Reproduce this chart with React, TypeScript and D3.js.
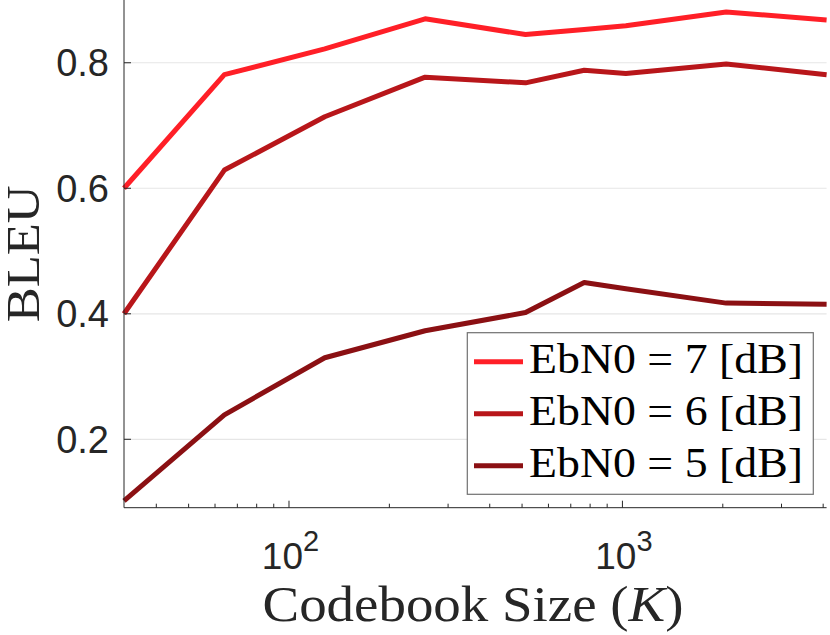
import React, { useEffect, useRef } from 'react';
import * as d3 from 'd3';

// codebook sizes (K) and BLEU per EbN0
const codebookSizes = [32, 64, 128, 256, 512, 768, 1024, 2048, 4096];
const bleu7dB = [0.600, 0.781, 0.822, 0.870, 0.845, 0.853, 0.859, 0.881, 0.868];
const bleu6dB = [0.400, 0.629, 0.714, 0.777, 0.768, 0.788, 0.783, 0.798, 0.781];
const bleu5dB = [0.102, 0.239, 0.330, 0.373, 0.402, 0.450, 0.440, 0.417, 0.415];

const seriesNames = ['7', '6', '5'];
const seriesColors = ['#ff1f27', '#b8161a', '#8b1013'];

const yTicks = [0.2, 0.4, 0.6, 0.8];
const xMajorTicks = [100, 1000];
const xTickExponents = ['2', '3'];

const sansFont = "'Liberation Sans', Arial, Helvetica, sans-serif";
const serifFont = "'Liberation Serif', 'Times New Roman', serif";

const App = () => {
  const svgRef = useRef(null);

  useEffect(() => {
    const svg = d3.select(svgRef.current);
    svg.selectAll('*').remove();

    const left = 124, right = 826.6, top = 0, bottom = 507.7;
    const axisColor = '#262626';

    const x = d3.scaleLog().domain([32, 4096]).range([left, right]);
    const y = d3.scaleLinear().domain([0.091, 0.9]).range([bottom, top]);

    // grid
    svg.append('g')
      .selectAll('line')
      .data(yTicks)
      .enter().append('line')
      .attr('x1', left).attr('x2', right)
      .attr('y1', d => y(d)).attr('y2', d => y(d))
      .attr('stroke', '#e6e6e6')
      .attr('stroke-width', 1.2);

    // lines
    const allSeries = [bleu7dB, bleu6dB, bleu5dB];
    const line = d3.line<number>()
      .x((_, i) => x(codebookSizes[i]))
      .y(d => y(d));

    allSeries.forEach((vals, i) => {
      svg.append('path')
        .datum(vals)
        .attr('d', line)
        .attr('fill', 'none')
        .attr('stroke', seriesColors[i])
        .attr('stroke-width', 5)
        .attr('stroke-linejoin', 'round');
    });

    // y axis
    const yAxis = svg.append('g');
    yAxis.append('line')
      .attr('x1', left).attr('x2', left)
      .attr('y1', top).attr('y2', bottom)
      .attr('stroke', axisColor).attr('stroke-width', 1);
    yAxis.selectAll('.ytick')
      .data(yTicks)
      .enter().append('line')
      .attr('x1', left).attr('x2', left + 7)
      .attr('y1', d => y(d)).attr('y2', d => y(d))
      .attr('stroke', axisColor);
    yAxis.selectAll('text')
      .data(yTicks)
      .enter().append('text')
      .attr('x', 109)
      .attr('y', d => y(d) + 13.5)
      .attr('text-anchor', 'end')
      .attr('font-family', sansFont)
      .attr('font-size', 38)
      .attr('fill', axisColor)
      .text(d => d.toFixed(1));

    // x axis
    const xAxis = svg.append('g');
    xAxis.append('line')
      .attr('x1', left).attr('x2', right)
      .attr('y1', bottom).attr('y2', bottom)
      .attr('stroke', axisColor).attr('stroke-width', 1);
    const minorTicks = [];
    [10, 100, 1000].forEach(dec => {
      for (let m = 2; m <= 9; m++) {
        const v = dec * m;
        if (v > 32 && v < 4096) minorTicks.push(v);
      }
    });
    xAxis.selectAll('.minor')
      .data(minorTicks)
      .enter().append('line')
      .attr('x1', d => x(d)).attr('x2', d => x(d))
      .attr('y1', bottom).attr('y2', bottom - 4)
      .attr('stroke', axisColor);
    xAxis.selectAll('.major')
      .data(xMajorTicks)
      .enter().append('line')
      .attr('x1', d => x(d)).attr('x2', d => x(d))
      .attr('y1', bottom).attr('y2', bottom - 7)
      .attr('stroke', axisColor);
    const xLabels = xAxis.selectAll('.xlab')
      .data(xMajorTicks)
      .enter().append('text')
      .attr('x', d => x(d) + 1.5)
      .attr('y', 569)
      .attr('text-anchor', 'middle')
      .attr('font-family', sansFont)
      .attr('font-size', 37)
      .attr('fill', axisColor);
    xLabels.append('tspan').text('10');
    xLabels.append('tspan')
      .attr('dy', -18)
      .attr('font-size', 29)
      .text((_, i) => xTickExponents[i]);

    // axis titles
    const xTitle = svg.append('text')
      .attr('x', 473)
      .attr('y', 621)
      .attr('text-anchor', 'middle')
      .attr('font-family', serifFont)
      .attr('font-size', 50)
      .attr('fill', axisColor)
      .attr('textLength', 421)
      .attr('lengthAdjust', 'spacingAndGlyphs');
    xTitle.append('tspan').text('Codebook Size (');
    xTitle.append('tspan').attr('font-style', 'italic').text('K');
    xTitle.append('tspan').text(')');

    svg.append('text')
      .attr('transform', `translate(39,${(top + bottom) / 2}) rotate(-90)`)
      .attr('text-anchor', 'middle')
      .attr('font-family', serifFont)
      .attr('font-size', 46)
      .attr('fill', axisColor)
      .attr('textLength', 137)
      .attr('lengthAdjust', 'spacingAndGlyphs')
      .text('BLEU');

    // legend
    const legend = svg.append('g');
    legend.append('rect')
      .attr('x', 467.3).attr('y', 332.7)
      .attr('width', 346).attr('height', 161.6)
      .attr('fill', '#ffffff')
      .attr('stroke', '#707070')
      .attr('stroke-width', 1.2);
    seriesNames.forEach((name, i) => {
      const cy = 361.7 + i * 52;
      legend.append('line')
        .attr('x1', 474).attr('x2', 523)
        .attr('y1', cy).attr('y2', cy)
        .attr('stroke', seriesColors[i])
        .attr('stroke-width', 5);
      legend.append('text')
        .attr('x', 529)
        .attr('y', cy + 11.5)
        .attr('font-family', serifFont)
        .attr('font-size', 42)
        .attr('fill', '#000000')
        .attr('textLength', 274)
        .attr('lengthAdjust', 'spacingAndGlyphs')
        .text(`EbN0 = ${name} [dB]`);
    });
  }, []);

  return (
    <svg
      ref={svgRef}
      width="830"
      height="635"
      style={{ position: 'absolute', left: 0, top: 0, background: '#ffffff' }}
    ></svg>
  );
};

export default App;
